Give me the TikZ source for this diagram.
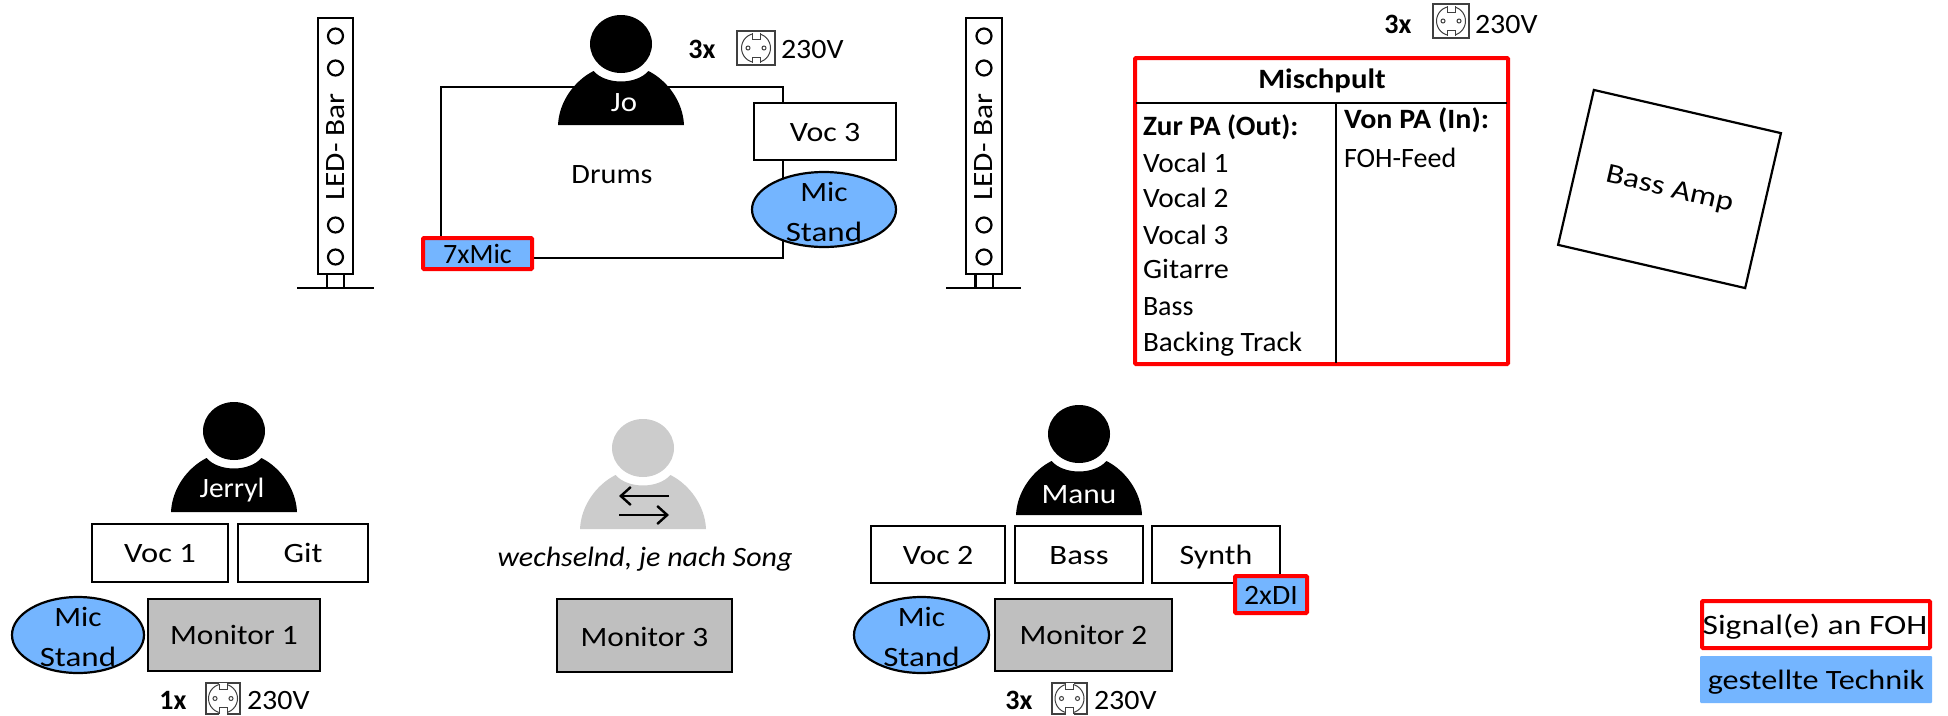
\documentclass[tikz,border=0pt]{standalone}
\usepackage{fontspec}
\usepackage{graphicx}
\setmainfont{Carlito}
\usetikzlibrary{shapes.geometric,arrows.meta}
\definecolor{techblue}{HTML}{74B5FF}
\definecolor{mongray}{HTML}{BFBFBF}
\definecolor{persgray}{HTML}{CCCCCC}
\definecolor{sockgray}{HTML}{404040}
\newcommand{\fsn}{\fontsize{28}{40}\selectfont}
\newcommand{\sx}[2]{\scalebox{#1}[1]{#2}}
\tikzset{
  every node/.style={font=\fsn},
  box/.style={draw=black,line width=2.2pt,rectangle,fill=white,inner sep=0pt,outer sep=0pt,text height=19pt,text depth=0pt,align=center},
  monbox/.style={box,fill=mongray},
  sigbox/.style={box,draw=red,line width=4pt,fill=techblue,rounded corners=1pt},
  stand/.style={draw=black,line width=2.2pt,ellipse,fill=techblue,inner sep=0pt,outer sep=0pt},
  txt/.style={inner sep=0pt,outer sep=0pt,anchor=base west},
  ctxt/.style={inner sep=0pt,outer sep=0pt,anchor=base},
  wtxt/.style={ctxt,text=white},
  bolder/.style={ctxt,font=\fsn\bfseries},
  ledline/.style={line width=2.4pt,draw=black},
  sock/.style={draw=sockgray,line width=1.2pt},
}
% box by corners
\newcommand{\bx}[7][box]{\node[#1,minimum width={#5-#3},minimum height={#6-#4}] (#2) at ({(#3+#5)/2},{(#4+#6)/2}) {#7};}
% mic stand ellipse by corners
\newcommand{\mic}[5]{\node[stand,minimum width={#4-#2},minimum height={#5-#3},
  label={[align=center,inner sep=0pt,yshift=-2pt]center:\sx{1.12}{Mic}\\\sx{1.18}{Stand}}] (#1) at ({(#2+#4)/2},{(#3+#5)/2}) {};}
% person: head centre, colour
\newcommand{\person}[3]{\begin{scope}[shift={(#1,#2)}]
  \fill[#3] (0,0) ellipse [x radius=31pt,y radius=29pt];
  \fill[#3] (-63,81) .. controls (-62,58) and (-47,37) .. (-27.5,27)
     .. controls (-15,41) and (15,41) .. (27.5,27)
     .. controls (47,37) and (62,58) .. (63,81) -- cycle;
\end{scope}}
% socket symbol
\newcommand{\socket}[5]{%
  \node[sock,rectangle,inner sep=0pt,outer sep=0pt,fill=white,minimum width={#4-#2},minimum height={#5-#3}] (#1) at ({(#2+#4)/2},{(#3+#5)/2}) {};
  \begin{scope}[shift={(#1.center)},sock,line width=1pt]
    \draw (0,0) circle [radius=14.5pt];
    \fill[white] (-4,-16) rectangle (4,-9);
    \fill[white] (-4,16) rectangle (4,9);
    \draw (-4,-15) -- (-4,-9) -- (4,-9) -- (4,-15);
    \draw (-4,15) -- (-4,9) -- (4,9) -- (4,15);
    \draw (-8,0) circle [radius=2pt];
    \draw (8,0) circle [radius=2pt];
  \end{scope}}
% LED bar
\newcommand{\ledbar}[7]{% name, x1,x2, stem1, stem2, base1, base2
  \node[draw=black,line width=2.4pt,rectangle,fill=white,inner sep=0pt,outer sep=0pt,minimum width={#3-#2},minimum height=256] (#1) at ({(#2+#3)/2},146) {};
  \node[rotate=90,inner sep=0pt,font=\fontsize{28}{34}\selectfont] (#1t) at ({(#2+#3)/2},147) {\sx{1.12}{LED- Bar}};
  \foreach \yy in {36,68,225,257}{\draw[ledline,line width=2.2pt] ({(#2+#3)/2},\yy) circle [radius=7.5pt];}
  \coordinate (#1a) at (#4,274); \coordinate (#1b) at (#4,288);
  \coordinate (#1c) at (#5,274); \coordinate (#1d) at (#5,288);
  \coordinate (#1e) at (#6,288); \coordinate (#1f) at (#7,288);
  \draw[ledline] (#1a) -- (#1b) (#1c) -- (#1d);
  \draw[ledline] (#1e) -- (#1f);
}
\begin{document}
\begin{tikzpicture}[x=1pt,y=-1pt]
\useasboundingbox (0,0) rectangle (1948,715);
\fill[white] (0,0) rectangle (1948,715);

% LED bars
\ledbar{leda}{318}{353}{327}{344}{297}{374}
\ledbar{ledb}{966}{1002}{975.5}{993}{946}{1021}

% Drums
\bx{drums}{441}{87}{783}{258}{}
\person{621}{44}{black}
\node[wtxt] (jo) at (624,111) {\sx{1.1}{Jo}};
\node[ctxt] (drumstxt) at (612,183) {\sx{1.08}{Drums}};
\bx{voc3}{754}{103}{896}{160}{\sx{1.14}{Voc 3}}
\mic{micc}{752}{172}{896}{247}
\bx[sigbox]{mics}{423}{238}{532}{269}{7xMic}
\node[bolder] (threea) at (702,58) {3x};
\socket{socka}{737}{31}{775}{65}
\node[txt] (va) at (781,58) {\sx{1.07}{230V}};

% Mischpult
\node[rectangle,draw=red,line width=4pt,fill=white,inner sep=0pt,outer sep=0pt,rounded corners=1pt,minimum width=373,minimum height=306] (misch) at (1321.5,211) {};
\coordinate (ml) at (1136,103); \coordinate (mr) at (1507,103);
\coordinate (mt) at (1336,103); \coordinate (mb) at (1336,363);
\draw[black,line width=2.2pt] (ml) -- (mr);
\draw[black,line width=2.2pt] (mt) -- (mb);
\node[bolder] (mischt) at (1322,88) {\sx{1.1}{Mischpult}};
\node[txt,font=\fsn\bfseries] (zur) at (1143,135) {\sx{1.04}{Zur PA (Out):}};
\node[txt] (vo1) at (1143,172) {\sx{1.05}{Vocal 1}};
\node[txt] (vo2) at (1143,207) {\sx{1.05}{Vocal 2}};
\node[txt] (vo3) at (1143,244) {\sx{1.05}{Vocal 3}};
\node[txt] (gi) at (1143,278) {\sx{1.08}{Gitarre}};
\node[txt] (ba) at (1143,315) {Bass};
\node[txt] (bt) at (1143,351) {\sx{1.04}{Backing Track}};
\node[txt,font=\fsn\bfseries] (von) at (1344,128) {\sx{1.07}{Von PA (In):}};
\node[txt] (foh) at (1344,167) {FOH-Feed};
\node[bolder] (threeb) at (1398,33) {3x};
\socket{sockb}{1433}{4}{1469}{38}
\node[txt] (vb) at (1475,33) {\sx{1.07}{230V}};

% Bass amp
\node[rectangle,draw=black,line width=2.2pt,inner sep=0pt,minimum width=192,minimum height=159,rotate=-13] (amp) at (1669.5,189) {};
\node[rotate=-13,inner sep=0pt] (ampt) at (1669.5,190) {\sx{1.18}{Bass Amp}};

% Jerryl
\person{234}{431}{black}
\node[wtxt] (jerryl) at (232,497) {\sx{1.05}{Jerryl}};
\bx{voc1}{92}{524}{228}{582}{\sx{1.16}{Voc 1}}
\bx{git}{238}{524}{368}{582}{\sx{1.16}{Git}}
\mic{mica}{12}{597}{144}{673}
\bx[monbox]{mon1}{148}{599}{320}{671}{\sx{1.12}{Monitor 1}}
\node[bolder] (onex) at (173,709) {1x};
\socket{sockc}{206}{683}{240}{714}
\node[txt] (vc) at (247,709) {\sx{1.07}{230V}};

% wechselnd
\person{643}{448}{persgray}
\coordinate (ar1a) at (669,496); \coordinate (ar1b) at (619,496);
\coordinate (ar2a) at (619,515); \coordinate (ar2b) at (669,515);
\draw[-{Straight Barb[length=10pt,width=18pt]},line width=2.4pt] (ar1a) -- (ar1b);
\draw[-{Straight Barb[length=10pt,width=18pt]},line width=2.4pt] (ar2a) -- (ar2b);
\node[ctxt,font=\fsn\itshape] (wechsel) at (645,566) {\sx{1.07}{wechselnd, je nach Song}};
\bx[monbox,text height=21pt]{mon3}{557}{599}{732}{672}{\sx{1.12}{Monitor 3}}

% Manu
\person{1079}{434}{black}
\node[wtxt] (manu) at (1079,503) {\sx{1.12}{Manu}};
\bx{voc2}{871}{526}{1005}{583}{\sx{1.14}{Voc 2}}
\bx{bass}{1015}{526}{1143}{583}{\sx{1.17}{Bass}}
\bx{synth}{1152}{526}{1280}{583}{\sx{1.14}{Synth}}
\bx[sigbox]{di}{1235}{576}{1307}{613}{\sx{1.06}{2xDI}}
\mic{micb}{854}{597}{989}{673}
\bx[monbox]{mon2}{995}{599}{1172}{671}{\sx{1.12}{Monitor 2}}
\node[bolder] (threec) at (1019,709) {3x};
\socket{sockd}{1052}{683}{1087}{714}
\node[txt] (vd) at (1094,709) {\sx{1.07}{230V}};

% Legend
\bx[sigbox,fill=white]{sig}{1702}{601}{1930}{648}{}
\node[ctxt] (sigt) at (1815,634) {\sx{1.2}{Signal(e) an FOH}};
\node[rectangle,fill=techblue,inner sep=0pt,rounded corners=1pt,minimum width=232,minimum height=47] (gest) at (1816,679.5) {};
\node[ctxt] (gestt) at (1816,689) {\sx{1.15}{gestellte Technik}};
\end{tikzpicture}
\end{document}
